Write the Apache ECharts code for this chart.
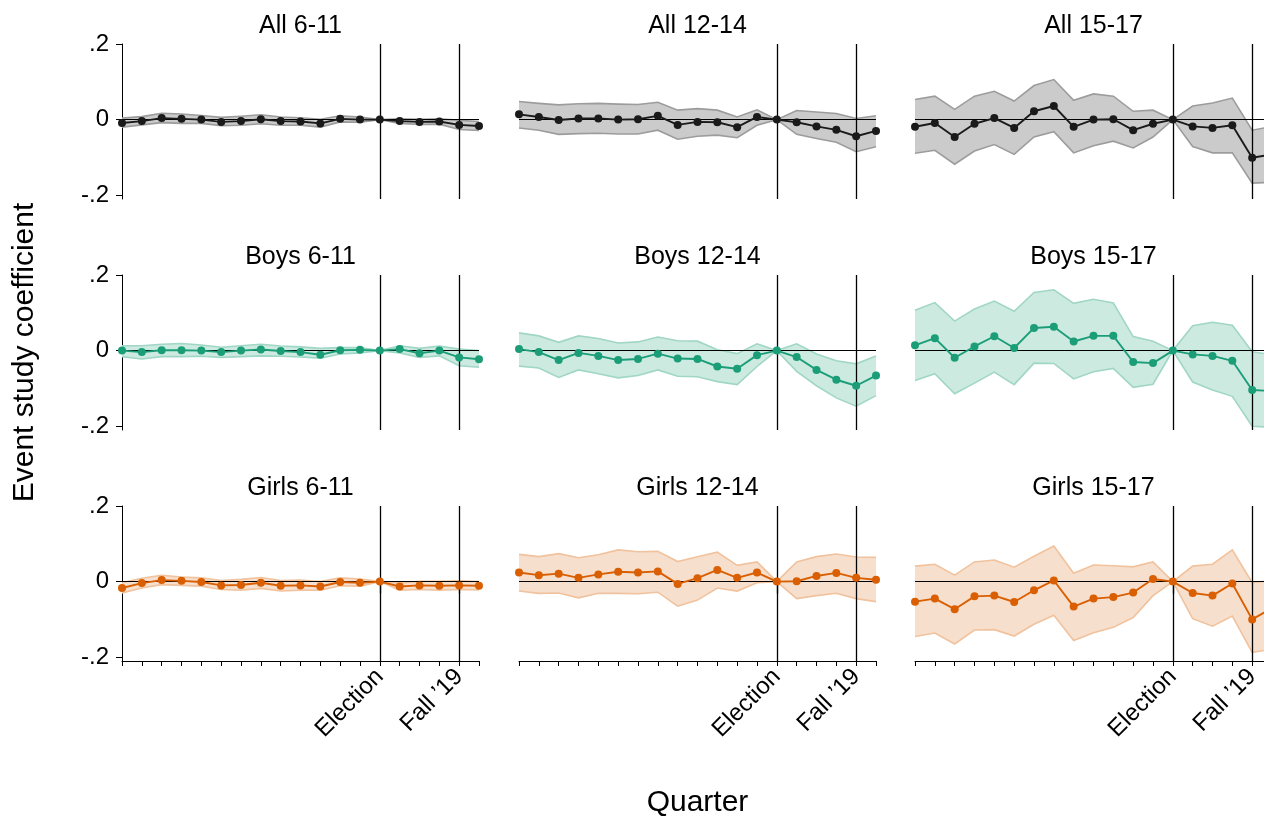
<!DOCTYPE html>
<html>
<head>
<meta charset="utf-8">
<script src="https://cdn.jsdelivr.net/npm/echarts@6/dist/echarts.min.js"></script>
<style>
  html, body { margin: 0; padding: 0; background: #fff; }
  #chart { width: 1264px; height: 816px; }
</style>
</head>
<body>
<div id="chart"></div>
<script>
// quarters relative to the election (0)
const quarters = [-13, -12, -11, -10, -9, -8, -7, -6, -5, -4, -3, -2, -1, 0, 1, 2, 3, 4, 5];
const xTickLabels = { 0: 'Election', 4: 'Fall ’19' };
const yTickValues = [-0.2, 0, 0.2];
const panelTitles = ['All 6-11', 'All 12-14', 'All 15-17', 'Boys 6-11', 'Boys 12-14', 'Boys 15-17', 'Girls 6-11', 'Girls 12-14', 'Girls 15-17'];

// All
const all611 = [-0.009, -0.004, 0.004, 0.002, 0.000, -0.006, -0.004, 0.001, -0.004, -0.005, -0.010, 0.002, 0.000, 0, -0.004, -0.006, -0.005, -0.014, -0.017];
const all611Lo = [-0.020, -0.014, -0.008, -0.010, -0.010, -0.016, -0.015, -0.011, -0.015, -0.015, -0.020, -0.006, -0.007, 0, -0.010, -0.013, -0.012, -0.026, -0.029];
const all611Hi = [0.004, 0.008, 0.017, 0.015, 0.011, 0.006, 0.009, 0.013, 0.007, 0.005, 0.001, 0.010, 0.007, 0, 0.002, 0.001, 0.002, -0.002, -0.005];

const all1214 = [0.014, 0.007, -0.001, 0.003, 0.003, 0.000, 0.001, 0.010, -0.014, -0.006, -0.007, -0.020, 0.007, 0, -0.007, -0.018, -0.027, -0.044, -0.030];
const all1214Lo = [-0.022, -0.028, -0.039, -0.037, -0.036, -0.038, -0.038, -0.028, -0.052, -0.044, -0.041, -0.048, -0.015, 0, -0.039, -0.050, -0.060, -0.085, -0.072];
const all1214Hi = [0.048, 0.043, 0.039, 0.042, 0.043, 0.041, 0.040, 0.046, 0.025, 0.029, 0.025, 0.007, 0.026, 0, 0.024, 0.020, 0.016, 0.003, 0.010];

const all1517 = [-0.019, -0.009, -0.046, -0.011, 0.004, -0.022, 0.022, 0.036, -0.019, 0.000, 0.001, -0.028, -0.011, 0, -0.018, -0.022, -0.015, -0.101, -0.092];
const all1517Lo = [-0.089, -0.081, -0.118, -0.083, -0.066, -0.092, -0.046, -0.032, -0.088, -0.069, -0.057, -0.075, -0.046, 0, -0.071, -0.088, -0.088, -0.168, -0.166];
const all1517Hi = [0.053, 0.062, 0.027, 0.062, 0.075, 0.049, 0.090, 0.106, 0.051, 0.068, 0.062, 0.022, 0.025, 0, 0.036, 0.044, 0.057, -0.028, -0.018];

// Boys
const boys611 = [0.000, -0.004, 0.001, 0.001, 0.000, -0.004, 0.000, 0.003, -0.001, -0.004, -0.011, 0.001, 0.002, 0, 0.004, -0.007, 0.000, -0.018, -0.023];
const boys611Lo = [-0.016, -0.022, -0.016, -0.016, -0.015, -0.018, -0.016, -0.014, -0.015, -0.017, -0.020, -0.009, -0.006, 0, -0.006, -0.018, -0.014, -0.040, -0.044];
const boys611Hi = [0.013, 0.013, 0.017, 0.019, 0.015, 0.009, 0.013, 0.017, 0.012, 0.010, 0.006, 0.008, 0.008, 0, 0.013, 0.006, 0.012, 0.004, 0.000];

const boys1214 = [0.004, -0.004, -0.025, -0.006, -0.014, -0.025, -0.022, -0.008, -0.021, -0.022, -0.042, -0.048, -0.012, 0, -0.017, -0.051, -0.077, -0.093, -0.066];
const boys1214Lo = [-0.041, -0.046, -0.071, -0.051, -0.061, -0.072, -0.066, -0.051, -0.068, -0.069, -0.082, -0.090, -0.042, 0, -0.055, -0.093, -0.125, -0.147, -0.119];
const boys1214Hi = [0.047, 0.039, 0.022, 0.039, 0.032, 0.020, 0.023, 0.036, 0.026, 0.025, 0.002, -0.008, 0.018, 0, 0.018, -0.009, -0.027, -0.035, -0.014];

const boys1517 = [0.014, 0.033, -0.019, 0.011, 0.038, 0.007, 0.060, 0.063, 0.024, 0.039, 0.039, -0.030, -0.033, 0, -0.010, -0.014, -0.027, -0.104, -0.107];
const boys1517Lo = [-0.079, -0.061, -0.114, -0.086, -0.057, -0.090, -0.033, -0.034, -0.075, -0.056, -0.047, -0.097, -0.089, 0, -0.083, -0.104, -0.121, -0.200, -0.203];
const boys1517Hi = [0.107, 0.127, 0.078, 0.110, 0.131, 0.104, 0.154, 0.161, 0.125, 0.136, 0.126, 0.037, 0.025, 0, 0.066, 0.075, 0.067, -0.003, -0.011];

// Girls
const girls611 = [-0.017, -0.004, 0.004, 0.002, -0.001, -0.010, -0.009, -0.003, -0.011, -0.010, -0.013, -0.001, -0.003, 0, -0.013, -0.010, -0.011, -0.010, -0.011];
const girls611Lo = [-0.030, -0.017, -0.008, -0.010, -0.012, -0.021, -0.023, -0.018, -0.025, -0.023, -0.023, -0.011, -0.012, 0, -0.023, -0.021, -0.023, -0.021, -0.022];
const girls611Hi = [-0.003, 0.009, 0.017, 0.012, 0.010, 0.003, 0.006, 0.011, 0.003, 0.004, 0.000, 0.010, 0.007, 0, -0.004, 0.001, 0.001, 0.002, 0.000];

const girls1214 = [0.024, 0.017, 0.021, 0.010, 0.019, 0.026, 0.024, 0.027, -0.006, 0.009, 0.031, 0.010, 0.024, 0, 0.001, 0.015, 0.023, 0.010, 0.005];
const girls1214Lo = [-0.025, -0.031, -0.030, -0.043, -0.031, -0.031, -0.032, -0.028, -0.065, -0.049, -0.017, -0.025, -0.003, 0, -0.045, -0.037, -0.031, -0.045, -0.053];
const girls1214Hi = [0.072, 0.066, 0.074, 0.063, 0.071, 0.084, 0.079, 0.080, 0.053, 0.066, 0.078, 0.043, 0.052, 0, 0.052, 0.066, 0.073, 0.065, 0.064];

const girls1517 = [-0.053, -0.045, -0.073, -0.039, -0.037, -0.054, -0.023, 0.003, -0.066, -0.045, -0.041, -0.029, 0.007, 0, -0.030, -0.037, -0.005, -0.100, -0.070];
const girls1517Lo = [-0.145, -0.136, -0.165, -0.128, -0.127, -0.144, -0.113, -0.089, -0.156, -0.135, -0.121, -0.095, -0.037, 0, -0.098, -0.118, -0.091, -0.187, -0.179];
const girls1517Hi = [0.041, 0.046, 0.017, 0.052, 0.057, 0.038, 0.067, 0.094, 0.022, 0.044, 0.042, 0.039, 0.052, 0, 0.041, 0.046, 0.084, -0.003, 0.003];

const panels = [
  [all611, all611Lo, all611Hi], [all1214, all1214Lo, all1214Hi], [all1517, all1517Lo, all1517Hi],
  [boys611, boys611Lo, boys611Hi], [boys1214, boys1214Lo, boys1214Hi], [boys1517, boys1517Lo, boys1517Hi],
  [girls611, girls611Lo, girls611Hi], [girls1214, girls1214Lo, girls1214Hi], [girls1517, girls1517Lo, girls1517Hi]
];

// one colour set per row
const rowColors = [
  { line: '#1a1a1a', fill: '#cbcbcb', edge: '#9c9c9c' },
  { line: '#1b9e77', fill: '#cdeae1', edge: '#a0d6c5' },
  { line: '#d95f02', fill: '#f7dfcd', edge: '#f0c29d' }
];

const FONT = 'Liberation Sans';
const colLeft = [122, 519, 915];
const colWidth = 357;
const rowTop = [44, 275, 506];
const rowHeight = 155;

const fmtY = function (v) {
  if (Math.abs(v) < 1e-9) return '0';
  return (v < 0 ? '-' : '') + String(Math.abs(v)).replace(/^0/, '');
};

// band polygon (upper edge forward, lower edge back) drawn once per panel
const makeBandRenderer = function (lo, hi, col) {
  return function (params, api) {
    if (params.dataIndex !== 0) return null;
    const top = quarters.map((q, k) => api.coord([q, hi[k]]));
    const bottom = quarters.map((q, k) => api.coord([q, lo[k]]));
    return {
      type: 'group',
      children: [
        { type: 'polygon', shape: { points: top.concat(bottom.slice().reverse()) }, style: { fill: col.fill } },
        { type: 'polyline', shape: { points: top }, style: { fill: null, stroke: col.edge, lineWidth: 1.6 } },
        { type: 'polyline', shape: { points: bottom }, style: { fill: null, stroke: col.edge, lineWidth: 1.6 } }
      ]
    };
  };
};

const grid = [], xAxis = [], yAxis = [], series = [], title = [];

for (let r = 0; r < 3; r++) {
  for (let c = 0; c < 3; c++) {
    const i = r * 3 + c;
    const col = rowColors[r];
    const [est, lo, hi] = panels[i];

    grid.push({
      left: colLeft[c], top: rowTop[r], width: colWidth, height: rowHeight,
      containLabel: false, outerBoundsMode: 'none'
    });

    title.push({
      text: panelTitles[i],
      left: colLeft[c] + colWidth / 2,
      top: rowTop[r] - 33,
      textAlign: 'center',
      padding: 0,
      textStyle: { fontFamily: FONT, fontSize: 25, fontWeight: 'normal', color: '#000', lineHeight: 30 }
    });

    xAxis.push({
      gridIndex: i,
      type: 'value',
      min: -13,
      max: 5,
      interval: 1,
      show: r === 2,
      axisLine: { onZero: false, lineStyle: { color: '#000', width: 1 } },
      axisTick: { length: 5, lineStyle: { color: '#000', width: 1 } },
      axisLabel: {
        customValues: [0, 4],
        formatter: function (v) { return xTickLabels[v] || ''; },
        rotate: 45,
        margin: 12,
        fontFamily: FONT,
        fontSize: 24,
        color: '#000'
      },
      splitLine: { show: false },
      name: (r === 2 && c === 1) ? 'Quarter' : '',
      nameLocation: 'middle',
      nameGap: 127,
      nameTextStyle: { fontFamily: FONT, fontSize: 30, color: '#000' }
    });

    yAxis.push({
      gridIndex: i,
      type: 'value',
      min: -0.21,
      max: 0.2,
      show: c === 0,
      axisLine: { show: true, onZero: false, lineStyle: { color: '#000', width: 1 } },
      axisTick: { show: true, customValues: yTickValues, length: 6, lineStyle: { color: '#000' } },
      axisLabel: {
        customValues: yTickValues,
        formatter: fmtY,
        margin: 13,
        fontFamily: FONT,
        fontSize: 24,
        color: '#000'
      },
      splitLine: { show: false },
      name: (r === 1 && c === 0) ? 'Event study coefficient' : '',
      nameLocation: 'middle',
      nameGap: 82,
      nameTextStyle: { fontFamily: FONT, fontSize: 30, color: '#000' }
    });

    // confidence band
    series.push({
      type: 'custom',
      xAxisIndex: i,
      yAxisIndex: i,
      data: quarters.map((q, k) => [q, lo[k], hi[k]]),
      encode: { x: 0, y: [1, 2] },
      renderItem: makeBandRenderer(lo, hi, col),
      silent: true,
      z: 1
    });
    // reference lines: election, Fall '19, zero
    series.push({
      type: 'line',
      xAxisIndex: i,
      yAxisIndex: i,
      data: [],
      silent: true,
      z: 3,
      markLine: {
        silent: true,
        symbol: ['none', 'none'],
        label: { show: false },
        lineStyle: { color: '#000', width: 1.3, type: 'solid' },
        data: [
          { xAxis: 0 },
          { xAxis: 4 },
          { yAxis: 0, lineStyle: { color: '#000', width: 1, type: 'solid' } }
        ]
      }
    });
    // point estimates
    series.push({
      type: 'line',
      xAxisIndex: i,
      yAxisIndex: i,
      data: quarters.map((q, k) => [q, est[k]]),
      symbol: 'circle',
      symbolSize: 8,
      z: 5,
      itemStyle: { color: col.line },
      lineStyle: { color: col.line, width: 1.9 }
    });
  }
}

// long ticks at Election and Fall '19 on the bottom row
for (let c = 0; c < 3; c++) {
  xAxis.push({
    gridIndex: 6 + c,
    type: 'value',
    position: 'bottom',
    min: -13,
    max: 5,
    interval: 1,
    axisLine: { show: false },
    axisTick: { show: true, customValues: [0, 4], length: 12, lineStyle: { color: '#000', width: 1.3 } },
    axisLabel: { show: false },
    splitLine: { show: false }
  });
}

const myChart = echarts.init(document.getElementById('chart'));
myChart.setOption({
  animation: false,
  backgroundColor: '#fff',
  title: title,
  grid: grid,
  xAxis: xAxis,
  yAxis: yAxis,
  series: series
});
</script>
</body>
</html>
